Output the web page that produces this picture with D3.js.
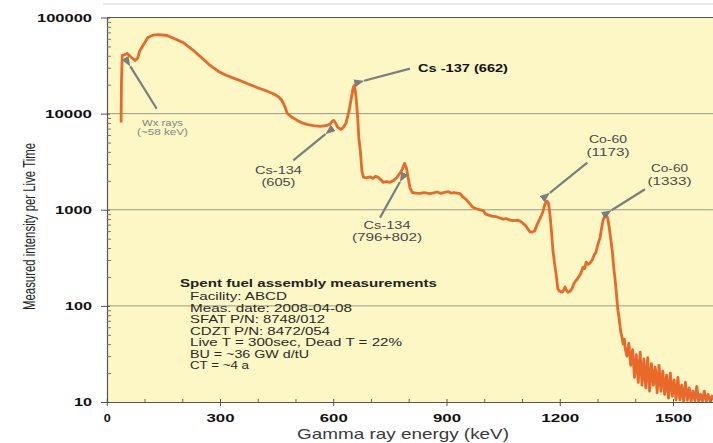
<!DOCTYPE html>
<html>
<head>
<meta charset="utf-8">
<script src="https://cdn.jsdelivr.net/npm/d3@7"></script>
<style>
  body { margin: 0; background: #fff; }
  svg { display: block; }
</style>
</head>
<body>
<svg id="chart" width="713" height="443"></svg>
<script>
// Gamma spectrum of a spent fuel assembly: energy (keV) and counts per live time
const energies = [
  38, 39, 41, 47, 54, 62, 75, 82, 88, 96, 109, 122, 136, 160, 180, 202, 225, 247, 274, 296,
  318, 336, 353, 375, 398, 420, 440, 455, 464, 472, 478, 491, 505, 518, 530, 548, 565, 580, 591, 597,
  601, 606, 611, 620, 627, 634, 642, 648, 653, 656, 660, 664, 668, 672, 676, 680, 688, 697, 705, 712,
  719, 726, 732, 741, 750, 760, 769, 777, 783, 789, 794, 798, 803, 809, 818, 830, 840, 856, 866, 875,
  885, 895, 905, 912, 920, 936, 944, 952, 960, 970, 978, 985, 997, 1004, 1012, 1020, 1030, 1042, 1050, 1058,
  1068, 1078, 1088, 1095, 1103, 1110, 1117, 1122, 1128, 1133, 1140, 1147, 1155, 1161, 1166, 1170, 1174, 1178, 1182, 1186,
  1190, 1195, 1200, 1206, 1210, 1214, 1218, 1222, 1227, 1232, 1238, 1244, 1248, 1255, 1262, 1266, 1270, 1275, 1280, 1286,
  1291, 1296, 1299, 1303, 1307, 1311, 1315, 1320, 1323, 1327, 1331, 1335, 1339, 1343, 1346, 1349, 1351, 1354, 1357, 1360,
  1362, 1365, 1368, 1371, 1374, 1378, 1383, 1388, 1393, 1398, 1403, 1408, 1413, 1418, 1423, 1428, 1433, 1438, 1443, 1448,
  1453, 1458, 1463, 1468, 1473, 1478, 1483, 1488, 1493, 1498, 1503, 1508, 1513, 1518, 1523, 1528, 1533, 1538, 1543, 1548,
  1553, 1558, 1563, 1568, 1573, 1578, 1583, 1588, 1593, 1598, 1603, 1606
];
const counts = [
  8100, 22000, 40300, 41000, 42300, 39500, 35700, 38000, 45400, 51200, 61900, 65500, 66500, 65000, 60000, 55000, 47000, 39500, 31700, 27500,
  24900, 23400, 22100, 20300, 18700, 17400, 16200, 15000, 13700, 11800, 10100, 9150, 8500, 8000, 7730, 7500, 7370, 7500, 7730, 8300,
  8510, 8000, 7300, 6860, 7200, 8000, 10800, 14500, 18700, 19700, 15500, 10000, 5500, 4000, 2500, 2180, 2150, 2200, 2120, 2230,
  2170, 2050, 1930, 1960, 1930, 2020, 2180, 2400, 2650, 3040, 2700, 2200, 1700, 1520, 1490, 1480, 1510, 1470, 1500, 1530,
  1480, 1520, 1540, 1490, 1510, 1470, 1350, 1280, 1180, 1060, 1030, 1010, 980, 900, 880, 860, 850, 820, 800, 810,
  780, 770, 780, 760, 720, 680, 620, 584, 590, 598, 700, 800, 942, 1150, 1230, 1180, 900, 600, 379, 280,
  219, 150, 142, 139, 145, 157, 145, 139, 142, 150, 172, 185, 194, 215, 253, 245, 285, 270, 278, 300,
  337, 360, 407, 460, 518, 650, 778, 880, 898, 820, 658, 500, 379, 250, 199, 150, 123, 90, 76, 60,
  53, 47, 40, 45, 35, 30, 41, 24, 35, 18, 31, 16, 33, 15, 28, 14, 29, 13, 25, 15,
  23, 12.5, 24, 13, 21, 12, 19, 11, 20, 11.5, 17, 10.5, 18, 10.5, 15, 10.2, 16, 10.4, 14, 10.1,
  13, 10.3, 14.5, 10.1, 12, 10.2, 13, 10.1, 12, 10.2, 11.5, 10.4
];

const xMajorTicks = [0, 300, 600, 900, 1200, 1500];
const xMinorTicks = [100, 200, 400, 500, 700, 800, 1000, 1100, 1300, 1400, 1600];
const yMajorTicks = [10, 100, 1000, 10000, 100000];

// Peak callouts: label lines and the point (keV, counts) the arrow points at
const calloutLines = [
  ["Wx rays", "(~58 keV)"],
  ["Cs -137  (662)"],
  ["Cs-134", "(605)"],
  ["Cs-134", "(796+802)"],
  ["Co-60", "(1173)"],
  ["Co-60", "(1333)"]
];
const calloutEnergy = [55.5, 669, 589.5, 783, 1163.6, 1326];
const calloutCount  = [34300, 21300, 6590, 2160, 1390, 927];

const infoTitle = "Spent fuel assembly measurements";
const infoLines = [
  "Facility: ABCD",
  "Meas. date: 2008-04-08",
  "SFAT P/N: 8748/012",
  "CDZT P/N: 8472/054",
  "Live T = 300sec, Dead T = 22%",
  "BU = ~36 GW d/tU",
  "CT = ~4 a"
];

// ---- layout ----
const W = 713, H = 443;
const plot = { left: 107, right: 713, top: 17.5, bottom: 402 };
const svg = d3.select("#chart");
const FONT = "'Liberation Sans', Arial, Helvetica, sans-serif";

const x = d3.scaleLinear().domain([0, 1606]).range([plot.left - 0.25, plot.right]);
const y = d3.scaleLog().domain([10, 100000]).range([plot.bottom, plot.top]);

// faint rule above the frame
svg.append("line")
  .attr("x1", 103).attr("x2", W).attr("y1", 4).attr("y2", 4)
  .attr("stroke", "#dcdff0").attr("stroke-width", 1.5);

// plot background
svg.append("rect")
  .attr("x", plot.left).attr("y", plot.top)
  .attr("width", plot.right - plot.left).attr("height", plot.bottom - plot.top)
  .attr("fill", "#fcf7c4");

// decade gridlines
svg.append("g").selectAll("line")
  .data(yMajorTicks.slice(1, -1))
  .join("line")
  .attr("x1", plot.left).attr("x2", plot.right)
  .attr("y1", d => y(d)).attr("y2", d => y(d))
  .attr("stroke", "#9a9a8c").attr("stroke-width", 1);

// top frame line
svg.append("line")
  .attr("x1", plot.left).attr("x2", plot.right)
  .attr("y1", plot.top).attr("y2", plot.top)
  .attr("stroke", "#555").attr("stroke-width", 1.2);

// spectrum
svg.append("clipPath").attr("id", "plotclip")
  .append("rect")
  .attr("x", plot.left).attr("y", plot.top)
  .attr("width", plot.right - plot.left).attr("height", plot.bottom - plot.top);

const spectrum = energies.map((e, i) => [e, counts[i]]);
const line = d3.line().x(d => x(d[0])).y(d => y(d[1]));
svg.append("path")
  .datum(spectrum)
  .attr("clip-path", "url(#plotclip)")
  .attr("d", line)
  .attr("fill", "none")
  .attr("stroke", "#e8692a")
  .attr("stroke-width", 2.8)
  .attr("stroke-linejoin", "round");

// ---- axes ----
const xLabelWidth = { 0: 7, 300: 28, 600: 28, 900: 28, 1200: 38, 1500: 37 };
const yLabelWidth = { 10: 18, 100: 27, 1000: 37, 10000: 47, 100000: 55 };

const xAxis = svg.append("g")
  .attr("transform", `translate(0,${plot.bottom})`)
  .call(d3.axisBottom(x).tickValues(xMajorTicks).tickSize(4).tickSizeOuter(0).tickFormat(d3.format("d")));
xAxis.select(".domain").attr("stroke", "#555").attr("stroke-width", 1.2);
xAxis.selectAll(".tick line").attr("y1", -3).attr("stroke", "#555");
xAxis.selectAll(".tick text")
  .attr("y", 12).attr("dy", "0.71em")
  .attr("font-family", FONT).attr("font-weight", 700).attr("font-size", 11)
  .attr("fill", "#111")
  .attr("textLength", d => xLabelWidth[d]).attr("lengthAdjust", "spacingAndGlyphs");

const xMinor = svg.append("g")
  .attr("transform", `translate(0,${plot.bottom})`)
  .call(d3.axisBottom(x).tickValues(xMinorTicks).tickSize(-3).tickSizeOuter(0).tickFormat(""));
xMinor.select(".domain").remove();
xMinor.selectAll(".tick line").attr("stroke", "#666");

const yAxis = svg.append("g")
  .attr("transform", `translate(${plot.left},0)`)
  .call(d3.axisLeft(y).tickValues(yMajorTicks).tickSize(6).tickSizeOuter(0).tickFormat(d3.format("d")));
yAxis.select(".domain").attr("stroke", "#555").attr("stroke-width", 1.2);
yAxis.selectAll(".tick line").attr("x1", 3).attr("stroke", "#555");
yAxis.selectAll(".tick text")
  .attr("x", -15)
  .attr("font-family", FONT).attr("font-weight", 700).attr("font-size", 11)
  .attr("fill", "#111")
  .attr("textLength", d => yLabelWidth[d]).attr("lengthAdjust", "spacingAndGlyphs");

const yMinorTicks = [];
for (let dec = 10; dec < 100000; dec *= 10) {
  for (let k = 2; k <= 9; k++) yMinorTicks.push(dec * k);
}
const yMinor = svg.append("g")
  .attr("transform", `translate(${plot.left},0)`)
  .call(d3.axisLeft(y).tickValues(yMinorTicks).tickSize(-4).tickSizeOuter(0).tickFormat(""));
yMinor.select(".domain").remove();
yMinor.selectAll(".tick line").attr("stroke", "#777");

// axis titles
svg.append("text")
  .attr("x", 403).attr("y", 439)
  .attr("text-anchor", "middle")
  .attr("font-family", FONT).attr("font-size", 15)
  .attr("fill", "#3a3a3a")
  .attr("textLength", 212).attr("lengthAdjust", "spacingAndGlyphs")
  .text("Gamma ray energy (keV)");

svg.append("text")
  .attr("transform", "translate(35,226.5) rotate(-90)")
  .attr("text-anchor", "middle")
  .attr("font-family", "'Liberation Sans Narrow', 'Liberation Sans', Arial, sans-serif")
  .attr("font-size", 17)
  .attr("fill", "#222")
  .attr("textLength", 167).attr("lengthAdjust", "spacingAndGlyphs")
  .text("Measured intensity per Live Time");

// ---- callouts ----
const defs = svg.append("defs");
defs.append("marker")
  .attr("id", "arrowhead")
  .attr("markerUnits", "userSpaceOnUse")
  .attr("markerWidth", 11).attr("markerHeight", 8)
  .attr("refX", 10).attr("refY", 4)
  .attr("orient", "auto")
  .append("path")
  .attr("d", "M0,0 L10,4 L0,8 Z")
  .attr("fill", "#7d7d7d");

// offsets (px) of arrow tail and label centre from the arrow tip
const calloutStyle = [
  { tail: [29, 46.6], label: [34.8, 60.3], anchor: "middle", gap: 9, size: 9, weight: 400, fill: "#858585", widths: [41, 51] },
  { tail: [50.7, -13.4], label: [58.7, -13.7], anchor: "start", gap: 0, size: 10, weight: 700, fill: "#111", widths: [90] },
  { tail: [-36, 29.3], label: [-50.8, 39.3], anchor: "middle", gap: 12, size: 10.5, weight: 400, fill: "#4a4a4a", widths: [47, 34] },
  { tail: [-22.3, 40], label: [-15.3, 47.7], anchor: "middle", gap: 12, size: 10.5, weight: 400, fill: "#4a4a4a", widths: [47, 70] },
  { tail: [41.3, -33.4], label: [62, -56.7], anchor: "middle", gap: 13, size: 10.5, weight: 400, fill: "#4a4a4a", widths: [38, 43] },
  { tail: [37.7, -23.7], label: [62.2, -44.7], anchor: "middle", gap: 13, size: 10.5, weight: 400, fill: "#4a4a4a", widths: [37, 44] }
];

const callouts = svg.append("g");
calloutLines.forEach((lines, i) => {
  const st = calloutStyle[i];
  const tx = x(calloutEnergy[i]), ty = y(calloutCount[i]);
  const sx = tx + st.tail[0], sy = ty + st.tail[1];
  const len = Math.hypot(tx - sx, ty - sy);
  const ex = tx - (tx - sx) / len * 5, ey = ty - (ty - sy) / len * 5;
  callouts.append("line")
    .attr("x1", sx).attr("y1", sy).attr("x2", ex).attr("y2", ey)
    .attr("stroke", "#7d7d7d").attr("stroke-width", 2.2);
  callouts.append("path")
    .attr("d", `M${tx},${ty} L${ex},${ey}`)
    .attr("stroke", "none")
    .attr("marker-end", "url(#arrowhead)");
  lines.forEach((t, j) => {
    callouts.append("text")
      .attr("x", tx + st.label[0]).attr("y", ty + st.label[1] + j * st.gap)
      .attr("dy", "0.35em")
      .attr("text-anchor", st.anchor)
      .attr("font-family", FONT).attr("font-size", st.size).attr("font-weight", st.weight)
      .attr("fill", st.fill)
      .attr("textLength", st.widths[j]).attr("lengthAdjust", "spacingAndGlyphs")
      .text(t);
  });
});

// ---- measurement info block ----
const info = svg.append("g");
info.append("text")
  .attr("x", 180).attr("y", 283).attr("dy", "0.35em")
  .attr("font-family", FONT).attr("font-size", 11).attr("font-weight", 700)
  .attr("fill", "#222")
  .attr("textLength", 257).attr("lengthAdjust", "spacingAndGlyphs")
  .text(infoTitle);
const infoWidths = [97, 162, 135, 140, 212, 119, 59];
info.selectAll("text.row")
  .data(infoLines)
  .join("text")
  .attr("class", "row")
  .attr("x", 190).attr("y", (d, i) => 296.5 + i * 11.5).attr("dy", "0.35em")
  .attr("font-family", FONT).attr("font-size", 10.5)
  .attr("fill", "#2a2a2a")
  .attr("textLength", (d, i) => infoWidths[i]).attr("lengthAdjust", "spacingAndGlyphs")
  .text(d => d);
</script>
</body>
</html>
